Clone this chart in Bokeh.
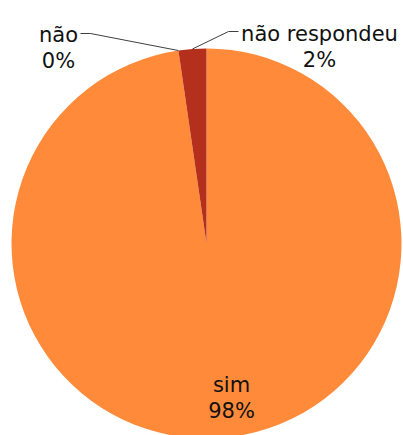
import math
from bokeh.plotting import figure
from bokeh.models import Range1d, ColumnDataSource
from bokeh.embed import file_html
from bokeh.resources import INLINE
from bokeh.core.properties import value

# ---- data ----
categories = ["sim", "não", "não respondeu"]
shares = [97.7, 0.0, 2.3]
colors = ["#FF8A3A", "#B5301C", "#B5301C"]

# ---- layout (page px -> data units: x = sx, y = H - sy) ----
W, H = 403, 435
cx, cy, R = 206, 435 - 243, 195
# label block anchor (center x, baseline of first line) in page px
label_pos = {"sim": (231, 384), "não": (58, 34), "não respondeu": (319, 33)}
line_gap = 26
# leader lines: elbow and end points in page px for outside labels
leaders = {"não": [(90, 33), (80, 33)], "não respondeu": [(228, 31), (238, 31)]}

total = sum(shares)
starts, ends, mids, wcolors = [], [], [], []
acc = 0.0
for s, col in zip(shares, colors):
    f0 = acc / total
    acc += s
    f1 = acc / total
    mids.append(math.pi / 2 - 2 * math.pi * (f0 + f1) / 2)
    if s > 0:
        starts.append(math.pi / 2 - 2 * math.pi * f0)
        ends.append(math.pi / 2 - 2 * math.pi * f1)
        wcolors.append(col)

p = figure(width=W, height=H, x_range=Range1d(0, W), y_range=Range1d(0, H),
           output_backend="svg", toolbar_location=None, min_border=0)
p.axis.visible = False
p.grid.visible = False
p.outline_line_color = None
p.background_fill_color = "white"
p.border_fill_color = "white"

src = ColumnDataSource(dict(start=starts, end=ends, color=wcolors))
p.wedge(x=cx, y=cy, radius=R, start_angle="start", end_angle="end",
        direction="clock", fill_color="color", line_color=None, source=src)

# leader lines
xs, ys = [], []
for i, c in enumerate(categories):
    if c in leaders:
        ex = cx + R * math.cos(mids[i])
        ey = cy + R * math.sin(mids[i])
        xs.append([ex] + [sx for sx, sy in leaders[c]])
        ys.append([ey] + [H - sy for sx, sy in leaders[c]])
p.multi_line(xs=xs, ys=ys, line_color="#404040", line_width=1)

# labels
tx, ty, tt = [], [], []
for i, c in enumerate(categories):
    sx, sy = label_pos[c]
    pct = f"{round(shares[i] / total * 100):d}%"
    tx += [sx, sx]
    ty += [H - sy, H - (sy + line_gap)]
    tt += [c, pct]
p.text(x=tx, y=ty, text=tt, text_align="center", text_baseline="alphabetic",
       text_font=value("DejaVu Sans"), text_font_size="21px", text_color="#111111")

open("out.html", "w").write(file_html(p, INLINE))
